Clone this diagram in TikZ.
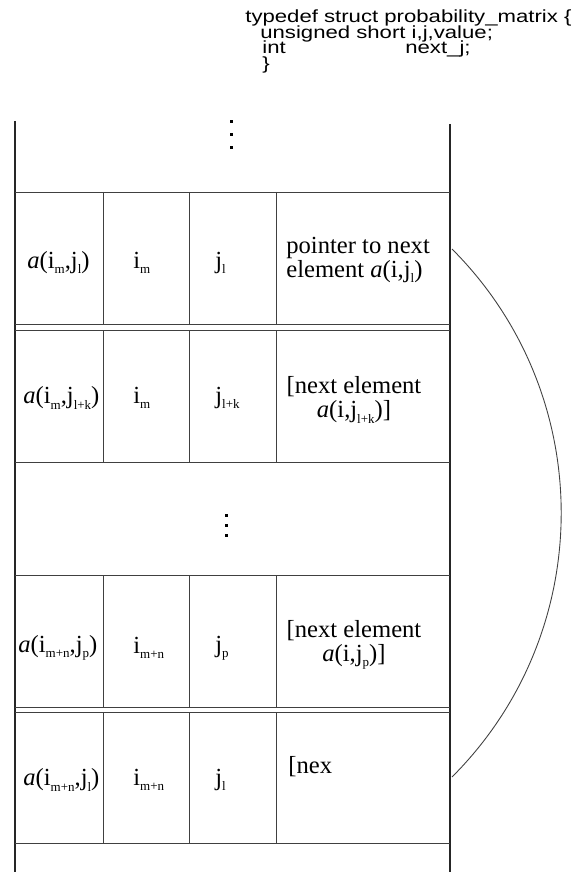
\documentclass[tikz,border=0pt]{standalone}
\usepackage{fontspec}
\usepackage{graphicx}
\newfontfamily\cellfont{Liberation Serif}
\newfontfamily\codefont{Liberation Sans}
\newcommand{\cellsize}{\cellfont\fontsize{14}{13.7}\selectfont}
\newcommand{\codesize}{\codefont\fontsize{10}{9}\selectfont}
\newcommand{\codeline}[1]{\scalebox{1.26}[1]{#1}}
\newcommand{\sub}[1]{\raisebox{-0.45ex}{\fontsize{7.4}{7.4}\selectfont #1}}
\tikzset{
  frame/.style={line width=1.4pt, black!85},
  rule/.style={line width=0.5pt, black!75},
  cell/.style={font=\cellsize, inner sep=0pt},
  code/.style={font=\codesize, anchor=base west, inner sep=0pt}
}
\begin{document}
\begin{tikzpicture}
    \useasboundingbox (0,0) rectangle (11.46,-17.44);
    % Struct declaration
    \node[code] (decl) at (4.90,-0.46) {\codeline{typedef struct probability\_matrix \{}};
    \node[code] (fields) at (5.20,-0.77) {\codeline{unsigned short i,j,value;}};
    \node[code] (intkw) at (5.24,-1.07) {\codeline{int}};
    \node[code] (nextj) at (8.10,-1.07) {\codeline{next\_j;}};
    \node[code] (brace) at (5.24,-1.40) {\codeline{\}}};
    % Outer frame
    \draw[frame] (0.30,-2.42) -- (0.30,-17.44);
    \draw[frame] (9.00,-2.48) -- (9.00,-17.44);
    % Dots on top
    \fill (4.59,-2.41) rectangle ++(0.06,-0.06);
    \fill (4.59,-2.67) rectangle ++(0.06,-0.06);
    \fill (4.59,-2.93) rectangle ++(0.06,-0.06);
    % Rows
    \draw[rule] (0.30,-3.84) -- (9.00,-3.84);
    \draw[rule] (0.30,-6.48) -- (9.00,-6.48);
    \draw[rule] (0.30,-6.60) -- (9.00,-6.60);
    \draw[rule] (0.30,-9.24) -- (9.00,-9.24);
    \draw[rule] (0.30,-11.50) -- (9.00,-11.50);
    \draw[rule] (0.30,-14.14) -- (9.00,-14.14);
    \draw[rule] (0.30,-14.24) -- (9.00,-14.24);
    \draw[rule] (0.30,-16.86) -- (9.00,-16.86);
    % Columns
    \draw[rule] (2.06,-3.84) -- (2.06,-6.48) (3.78,-3.84) -- (3.78,-6.48) (5.52,-3.84) -- (5.52,-6.48);
    \draw[rule] (2.06,-6.60) -- (2.06,-9.24) (3.78,-6.60) -- (3.78,-9.24) (5.52,-6.60) -- (5.52,-9.24);
    \draw[rule] (2.06,-11.50) -- (2.06,-14.14) (3.78,-11.50) -- (3.78,-14.14) (5.52,-11.50) -- (5.52,-14.14);
    \draw[rule] (2.06,-14.24) -- (2.06,-16.86) (3.78,-14.24) -- (3.78,-16.86) (5.52,-14.24) -- (5.52,-16.86);
    % Middle dots
    \fill (4.49,-10.27) rectangle ++(0.06,-0.06);
    \fill (4.49,-10.47) rectangle ++(0.06,-0.06);
    \fill (4.49,-10.67) rectangle ++(0.06,-0.06);
    % First element
    \node[cell, anchor=west] (val1) at (0.54,-5.26) {\textit{a}(i\sub{m},j\sub{l})};
    \node[cell, anchor=west] (row1) at (2.66,-5.26) {i\sub{m}};
    \node[cell, anchor=west] (col1) at (4.30,-5.26) {j\sub{l}};
    \node[cell, anchor=west, align=left] (ptr1) at (5.72,-5.20) {pointer to next\\element \textit{a}(i,j\sub{l})};
    % Second element
    \node[cell, anchor=west] (val2) at (0.46,-7.96) {\textit{a}(i\sub{m},j\sub{l+k})};
    \node[cell, anchor=west] (row2) at (2.66,-7.96) {i\sub{m}};
    \node[cell, anchor=west] (col2) at (4.30,-7.96) {j\sub{l+k}};
    \node[cell, align=center] (ptr2) at (7.08,-8.00) {[next element\\\textit{a}(i,j\sub{l+k})]};
    % Third element
    \node[cell, anchor=west] (val3) at (0.36,-12.96) {\textit{a}(i\sub{m+n},j\sub{p})};
    \node[cell, anchor=west] (row3) at (2.66,-12.96) {i\sub{m+n}};
    \node[cell, anchor=west] (col3) at (4.30,-12.96) {j\sub{p}};
    \node[cell, align=center] (ptr3) at (7.08,-12.90) {[next element\\\textit{a}(i,j\sub{p})]};
    % Fourth element
    \node[cell, anchor=west] (val4) at (0.46,-15.60) {\textit{a}(i\sub{m+n},j\sub{l})};
    \node[cell, anchor=west] (row4) at (2.66,-15.60) {i\sub{m+n}};
    \node[cell, anchor=west] (col4) at (4.30,-15.60) {j\sub{l}};
    \node[cell, anchor=west] (ptr4) at (5.76,-15.34) {[nex};
    % Link
    \coordinate (link1) at (9.04,-4.98);
    \coordinate (link4) at (9.04,-15.54);
    \draw[rule] (link1) to[out=-45, in=45] (link4);
\end{tikzpicture}
\end{document}
